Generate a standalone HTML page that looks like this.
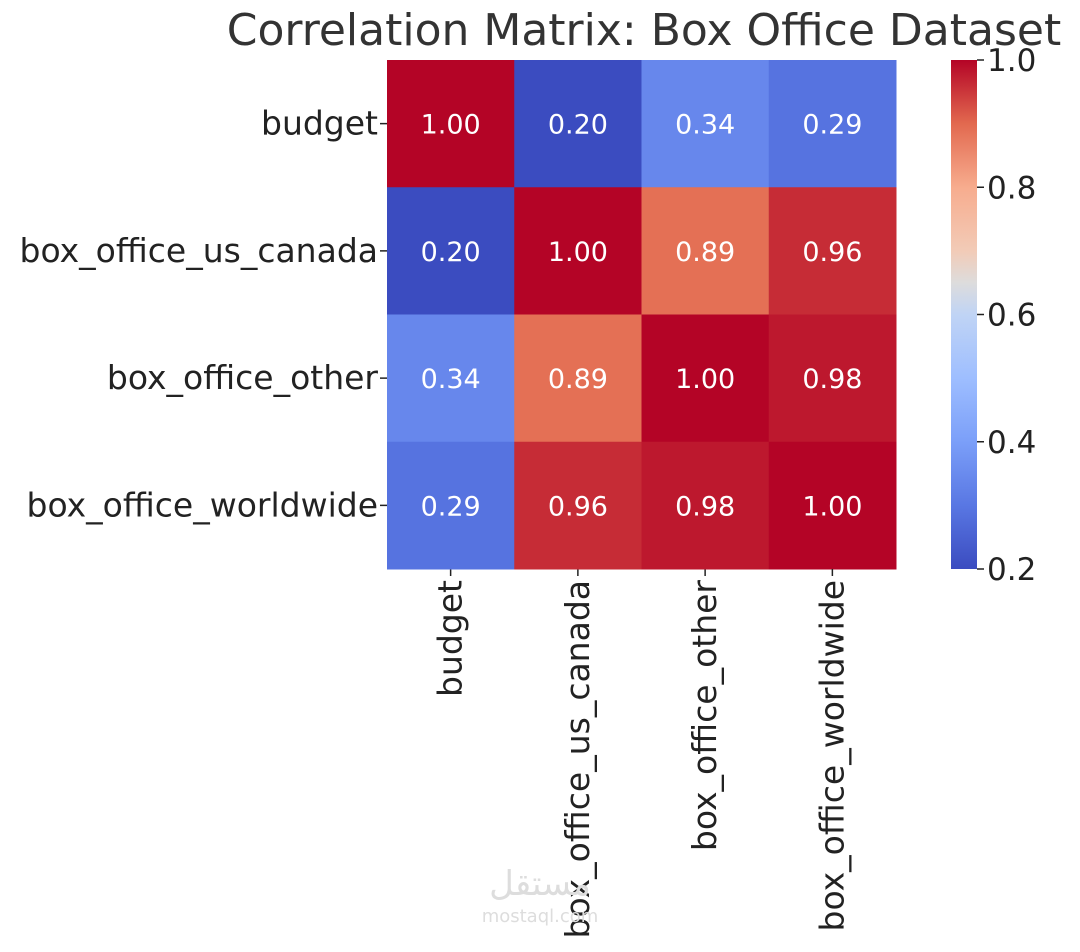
<!DOCTYPE html>
<html><head><meta charset="utf-8"><style>
body{margin:0;background:#fff;width:1080px;height:947px;overflow:hidden}
svg text{font-family:"DejaVu Sans","Liberation Sans",sans-serif}
</style></head><body>
<svg id="chart" width="1080" height="947">
<defs><linearGradient id="cw" x1="0" y1="1" x2="0" y2="0">
<stop offset="0" stop-color="#3b4cc0"/><stop offset="0.125" stop-color="#5977e3"/><stop offset="0.25" stop-color="#7b9ff9"/><stop offset="0.375" stop-color="#9ebeff"/><stop offset="0.5" stop-color="#c0d4f5"/><stop offset="0.5625" stop-color="#dddcdc"/><stop offset="0.625" stop-color="#f2cbb7"/><stop offset="0.75" stop-color="#f7ac8e"/><stop offset="0.875" stop-color="#e2694f"/><stop offset="1" stop-color="#b40426"/>
</linearGradient></defs>
<text x="644" y="45" text-anchor="middle" font-size="44" fill="#333">Correlation Matrix: Box Office Dataset</text>
<g id="cells"></g>
<rect x="951" y="60" width="26" height="509" fill="url(#cw)"/>
<g id="cbticks"></g>
<text x="540" y="895" text-anchor="middle" font-size="34" fill="#ddd">مستقل</text>
<text x="540" y="922" text-anchor="middle" font-size="18" fill="#ddd">mostaql.com</text>
</svg>
<script>
const labels=["budget","box_office_us_canada","box_office_other","box_office_worldwide"];
const row0=[1.00,0.20,0.34,0.29];
const row1=[0.20,1.00,0.89,0.96];
const row2=[0.34,0.89,1.00,0.98];
const row3=[0.29,0.96,0.98,1.00];
const cbTicks=[0.2,0.4,0.6,0.8,1.0];
const matrix=[row0,row1,row2,row3];
const X0=387,Y0=60,S=509,cell=S/4,vmin=0.2,vmax=1.0;
const stops=[[0,[59,76,192]],[0.125,[89,119,227]],[0.25,[123,159,249]],[0.375,[158,190,255]],[0.5,[192,212,245]],[0.5625,[221,220,220]],[0.625,[242,203,183]],[0.75,[247,172,142]],[0.875,[226,105,79]],[1,[180,4,38]]];
function color(v){let t=Math.max(0,Math.min(1,(v-vmin)/(vmax-vmin)));for(let i=1;i<stops.length;i++){if(t<=stops[i][0]){const a=stops[i-1],b=stops[i],f=(t-a[0])/(b[0]-a[0]);return 'rgb('+a[1].map((c,k)=>Math.round(c+(b[1][k]-c)*f)).join(',')+')';}}return 'rgb(180,4,38)';}
const ns="http://www.w3.org/2000/svg",g=document.getElementById('cells');
function mk(tag,attrs,txt){const e=document.createElementNS(ns,tag);for(const k in attrs)e.setAttribute(k,attrs[k]);if(txt!==undefined)e.textContent=txt;return e;}
matrix.forEach((row,i)=>{row.forEach((v,j)=>{
const r=mk('rect',{x:X0+j*cell,y:Y0+i*cell,width:cell+0.5,height:cell+0.5,fill:color(v)});


g.appendChild(r);
const t=mk('text',{x:X0+(j+0.5)*cell,y:Y0+(i+0.5)*cell+10,'text-anchor':'middle','font-size':27,fill:'#fff'},v.toFixed(2));


g.appendChild(t);});
const yl=mk('text',{x:X0-9,y:Y0+(i+0.5)*cell+11,'text-anchor':'end','font-size':33,fill:'#222'},labels[i]);


g.appendChild(yl);
g.appendChild(mk('line',{x1:X0-7,x2:X0,y1:Y0+(i+0.5)*cell,y2:Y0+(i+0.5)*cell,stroke:'#222','stroke-width':1.5}));
const cx=X0+(i+0.5)*cell;
const xl=mk('text',{x:0,y:0,'text-anchor':'end','font-size':33,fill:'#222',transform:'translate('+(cx+11)+','+(Y0+S+11)+') rotate(-90)'},labels[i]);


g.appendChild(xl);
g.appendChild(mk('line',{x1:cx,x2:cx,y1:Y0+S,y2:Y0+S+7,stroke:'#222','stroke-width':1.5}));
});
const cb=document.getElementById('cbticks');
cbTicks.forEach(v=>{const y=Y0+S-(v-vmin)/(vmax-vmin)*S;
cb.appendChild(mk('line',{x1:977,x2:984,y1:y,y2:y,stroke:'#222','stroke-width':1.5}));
const t=mk('text',{x:987,y:y+11,'font-size':31,fill:'#222'},v.toFixed(1));


cb.appendChild(t);});
</script>
</body></html>
